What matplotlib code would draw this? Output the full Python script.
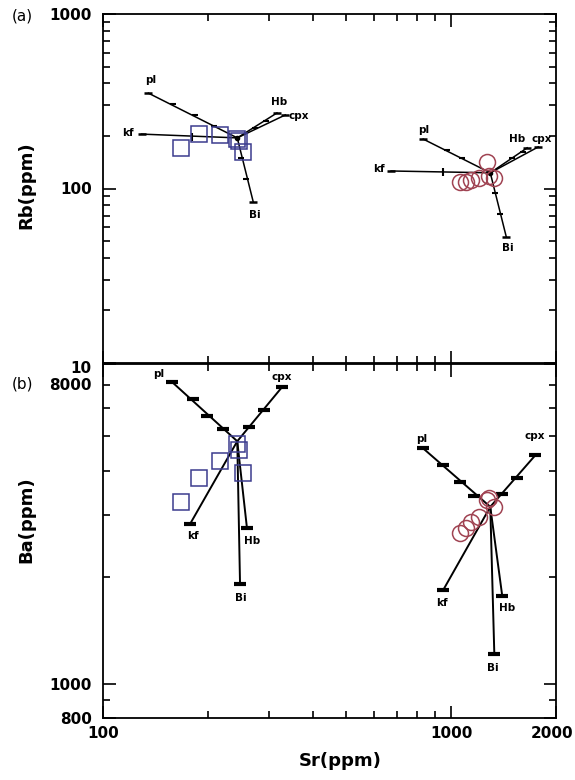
import matplotlib
matplotlib.use('Agg')
import matplotlib.pyplot as plt
import matplotlib.transforms as mtransforms
from matplotlib.ticker import NullFormatter

# sample data (ppm)
sq_sr = [168, 189, 217, 242, 245, 253]
sq_rb = [171, 205, 203, 192, 186, 162]
sq_ba = [3250, 3820, 4250, 4750, 4560, 3930]

ci_sr = [1060, 1100, 1140, 1200, 1270, 1285, 1325]
ci_rb = [109, 109, 112, 115, 142, 118, 115]
ci_ba = [2670, 2760, 2870, 2960, 3310, 3350, 3160]

minerals = ['pl', 'kf', 'Hb', 'cpx', 'Bi']

# Rayleigh vectors, panel (a): Sr vs Rb
a1_start = (243, 195)
a1_end_sr = [135, 129, 316, 334, 270]
a1_end_rb = [352, 205, 271, 264, 84]
a1_tick_sr = [159, 184, 208, 249, 258, 273, 294]
a1_tick_rb = [305, 264, 228, 150, 113, 222, 244]
a1_kftick_sr = [180]
a1_kftick_rb = [197]

a2_start = (1295, 123)
a2_end_sr = [831, 672, 1653, 1778, 1439]
a2_end_rb = [192, 126, 171, 173, 53]
a2_tick_sr = [974, 1076, 1338, 1383, 1497, 1610]
a2_tick_rb = [166, 150, 94, 71, 150, 162]
a2_kftick_sr = [948]
a2_kftick_rb = [124]

# Rayleigh vectors, panel (b): Sr vs Ba
b1_start = (243, 4840)
b1_end_sr = [158, 178, 259, 327, 247.5]
b1_end_ba = [7110, 2830, 2760, 6890, 1910]
b1_tick_sr = [181, 199, 221, 290, 263]
b1_tick_ba = [6370, 5700, 5230, 5930, 5300]

b2_start = (1295, 3160)
b2_end_sr = [831, 948, 1402, 1743, 1330]
b2_end_ba = [4620, 1837, 1766, 4415, 1217]
b2_tick_sr = [948, 1061, 1164, 1548, 1402]
b2_tick_ba = [4160, 3720, 3400, 3820, 3440]

sq_color = '#3c3c8e'
ci_color = '#a04352'

fig = plt.figure(figsize=(5.75, 7.8), dpi=100)
ax1 = fig.add_axes([103/575, 1-363/780, 453/575, 349/780])
ax2 = fig.add_axes([103/575, 1-718/780, 453/575, 354/780])


def draw_vectors(ax, start, end_x, end_y, offsets, lw, ms, mew):
    for i, m in enumerate(minerals):
        ax.plot([start[0], end_x[i]], [start[1], end_y[i]], color='black', lw=lw, zorder=3)
        ax.plot(end_x[i], end_y[i], marker='_', color='black', ms=ms, mew=mew, zorder=3)
        ax.annotate(m, (end_x[i], end_y[i]), xytext=offsets[i], textcoords='offset pixels',
                    ha='center', va='center', fontsize=7.5, fontweight='bold')


# panel (a)
draw_vectors(ax1, a1_start, a1_end_sr, a1_end_rb,
             [(2, 13), (-14, 1), (2, 11), (13, -1), (2, -13)], 1.1, 6, 1.8)
draw_vectors(ax1, a2_start, a2_end_sr, a2_end_rb,
             [(0, 9), (-12, 2), (-10, 9), (4, 8), (2, -11)], 1.1, 6, 1.8)
ax1.plot(a1_tick_sr, a1_tick_rb, ls='none', marker='_', color='black', ms=5, mew=1.5, zorder=3)
ax1.plot(a2_tick_sr, a2_tick_rb, ls='none', marker='_', color='black', ms=5, mew=1.5, zorder=3)
ax1.plot(a1_kftick_sr, a1_kftick_rb, ls='none', marker='|', color='black', ms=6, mew=1.5, zorder=3)
ax1.plot(a2_kftick_sr, a2_kftick_rb, ls='none', marker='|', color='black', ms=6, mew=1.5, zorder=3)
ax1.plot(a1_start[0], a1_start[1], marker='o', color='black', ms=3, zorder=3)
ax1.plot(a2_start[0], a2_start[1], marker='o', color='black', ms=3, zorder=3)
ax1.plot(sq_sr, sq_rb, ls='none', marker='s', ms=11, mfc='none', mec=sq_color, mew=1.1, zorder=4)
ax1.plot(ci_sr, ci_rb, ls='none', marker='o', ms=11.5, mfc='none', mec=ci_color, mew=1.1, zorder=4)

# panel (b)
draw_vectors(ax2, b1_start, b1_end_sr, b1_end_ba,
             [(-13, 8), (3, -12), (5, -13), (0, 10), (1, -14)], 1.4, 8, 3)
draw_vectors(ax2, b2_start, b2_end_sr, b2_end_ba,
             [(-2, 9), (-1, -13), (5, -12), (0, 19), (-1, -14)], 1.4, 8, 3)
ax2.plot(b1_tick_sr, b1_tick_ba, ls='none', marker='_', color='black', ms=8, mew=3, zorder=3)
ax2.plot(b2_tick_sr, b2_tick_ba, ls='none', marker='_', color='black', ms=8, mew=3, zorder=3)
ax2.plot(sq_sr, sq_ba, ls='none', marker='s', ms=11, mfc='none', mec=sq_color, mew=1.1, zorder=4)
ax2.plot(ci_sr, ci_ba, ls='none', marker='o', ms=11.5, mfc='none', mec=ci_color, mew=1.1, zorder=4)

for ax in (ax1, ax2):
    ax.set_xscale('log')
    ax.set_yscale('log')
    ax.set_xlim(100, 2000)
    ax.set_xticks([100, 1000, 2000])
    ax.set_xticks([200, 300, 400, 500, 600, 700, 800, 900], minor=True)
    ax.xaxis.set_minor_formatter(NullFormatter())
    ax.yaxis.set_minor_formatter(NullFormatter())
    ax.tick_params(which='both', direction='in', top=True, right=True, width=1.2)
    ax.tick_params(which='major', length=9)
    ax.tick_params(which='minor', length=5)
    ax.tick_params(axis='y', pad=8)
    ax.tick_params(axis='x', pad=6)
    for s in ax.spines.values():
        s.set_linewidth(1.3)

ax1.set_ylim(10, 1000)
ax1.set_yticks([10, 100, 1000])
ax1.set_yticklabels(['10', '100', '1000'], fontweight='bold', fontsize=11)
ax1.set_yticks([20, 30, 40, 50, 60, 70, 80, 90, 200, 300, 400, 500, 600, 700, 800, 900], minor=True)
ax1.set_xticklabels([])

ax2.set_ylim(800, 8000)
ax2.set_yticks([800, 1000, 8000])
ax2.set_yticklabels(['800', '1000', '8000'], fontweight='bold', fontsize=11)
ax2.set_yticks([900, 2000, 3000, 4000, 5000, 6000, 7000], minor=True)
ax2.set_xticklabels(['100', '1000', '2000'], fontweight='bold', fontsize=11)

# shift the crowded labels at the panel join and the right edge
shift = lambda dx, dy: mtransforms.ScaledTranslation(dx / 100, dy / 100, fig.dpi_scale_trans)
lab10 = ax1.yaxis.get_major_ticks()[0].label1
lab10.set_transform(lab10.get_transform() + shift(0, -4))
lab8000 = ax2.yaxis.get_major_ticks()[2].label1
lab8000.set_transform(lab8000.get_transform() + shift(0, -20))
lab2000 = ax2.xaxis.get_major_ticks()[2].label1
lab2000.set_transform(lab2000.get_transform() + shift(-4, 0))

ax1.set_ylabel('Rb(ppm)', fontsize=13, fontweight='bold')
ax1.yaxis.set_label_coords(-0.15, 0.51)
ax2.set_ylabel('Ba(ppm)', fontsize=13, fontweight='bold')
ax2.yaxis.set_label_coords(-0.15, 0.56)
ax2.set_xlabel('Sr(ppm)', fontsize=13, fontweight='bold')
ax2.xaxis.set_label_coords(0.523, -0.095)

fig.text(12/575, 1-16/780, '(a)', fontsize=11, va='center', ha='left')
fig.text(12/575, 1-384/780, '(b)', fontsize=11, va='center', ha='left')

fig.savefig('out.png', dpi=100)
